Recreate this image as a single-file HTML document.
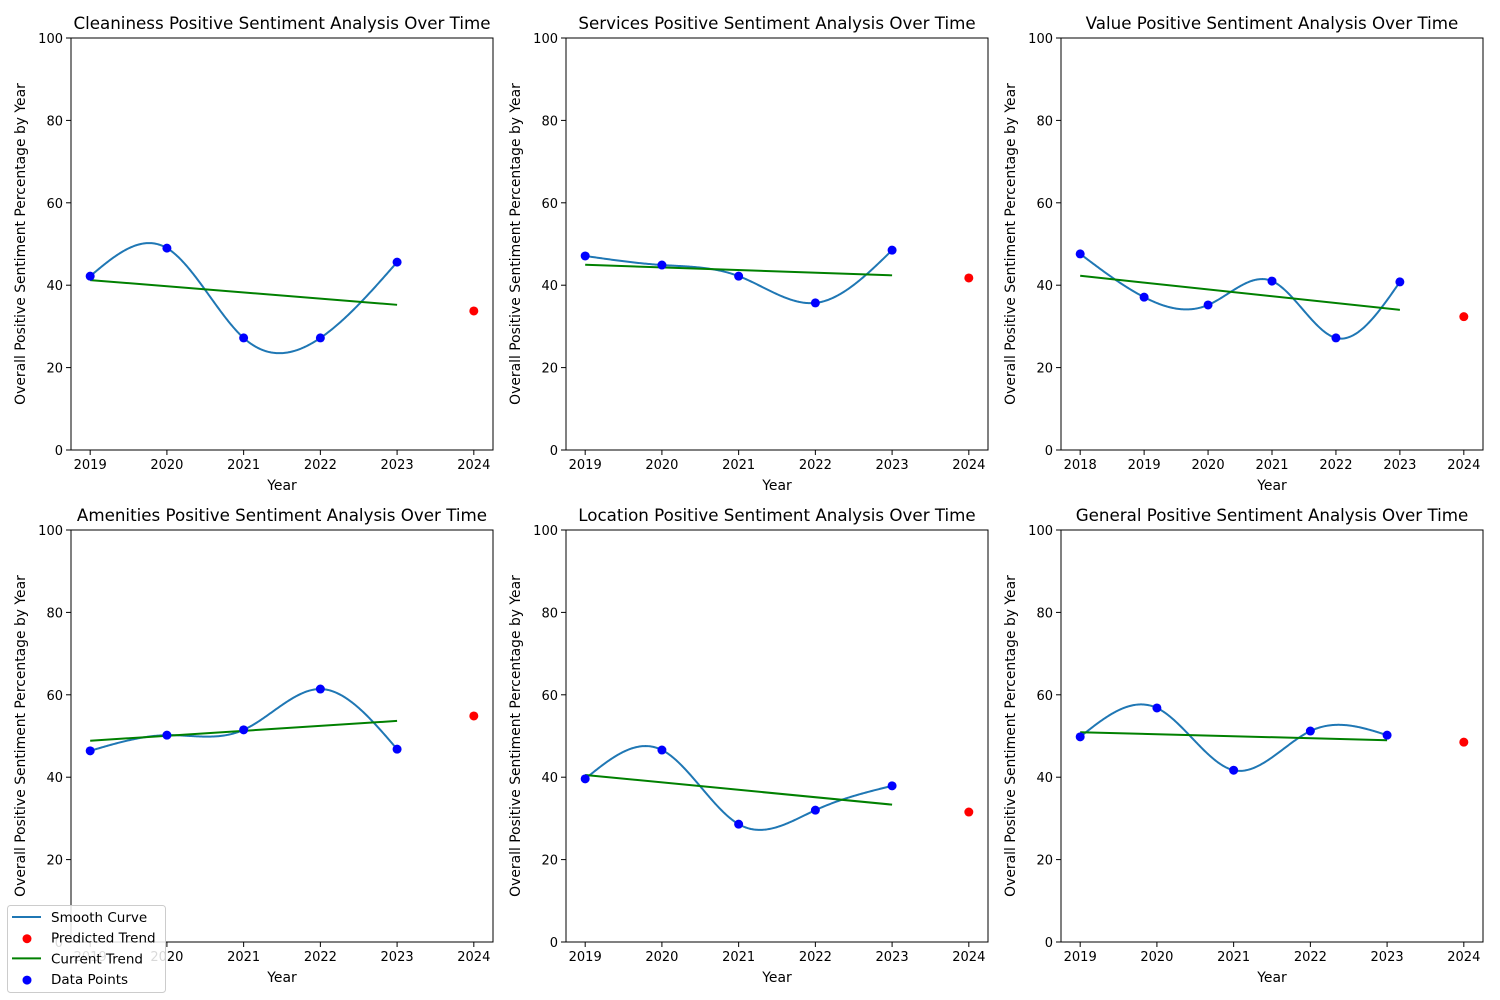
<!DOCTYPE html>
<html><head><meta charset="utf-8"><style>
body{margin:0;background:#fff}
svg{display:block;font-family:"DejaVu Sans","Liberation Sans",sans-serif}
</style></head><body>
<svg id="fig" width="1500" height="1000" viewBox="0 0 1500 1000"></svg>
<script>
const titles=["Cleaniness","Services","Value","Amenities","Location","General"];
const yearsA=[2019,2020,2021,2022,2023];
const yearsValue=[2018,2019,2020,2021,2022,2023];
const cleaniness=[42.2,49.0,27.2,27.2,45.6];
const services=[47.1,44.9,42.2,35.7,48.5];
const valueS=[47.6,37.1,35.2,41.0,27.2,40.8];
const amenities=[46.4,50.2,51.5,61.4,46.8];
const locationS=[39.6,46.6,28.6,32.0,37.9];
const general=[49.8,56.8,41.7,51.2,50.2];
const yTicks=[0,20,40,60,80,100];

const NS="http://www.w3.org/2000/svg";
const fig=document.getElementById('fig');
function mk(tag,attrs,parent,text){const e=document.createElementNS(NS,tag);for(const k in attrs)e.setAttribute(k,attrs[k]);if(text!==undefined)e.textContent=text;(parent||fig).appendChild(e);return e;}

function spline(xs,ys){ // natural cubic spline
  const n=xs.length,h=[];for(let i=0;i<n-1;i++)h.push(xs[i+1]-xs[i]);
  const A=[],b=[];for(let i=0;i<n;i++){A.push(new Array(n).fill(0));b.push(0);}
  A[0][0]=1;
  for(let i=1;i<n-1;i++){A[i][i-1]=h[i-1];A[i][i]=2*(h[i-1]+h[i]);A[i][i+1]=h[i];
    b[i]=6*((ys[i+1]-ys[i])/h[i]-(ys[i]-ys[i-1])/h[i-1]);}
  A[n-1][n-1]=1;
  for(let c=0;c<n;c++){let p=c;for(let r=c+1;r<n;r++)if(Math.abs(A[r][c])>Math.abs(A[p][c]))p=r;
    [A[c],A[p]]=[A[p],A[c]];[b[c],b[p]]=[b[p],b[c]];
    for(let r=0;r<n;r++){if(r===c)continue;const f=A[r][c]/A[c][c];for(let k=c;k<n;k++)A[r][k]-=f*A[c][k];b[r]-=f*b[c];}}
  const M=b.map((v,i)=>v/A[i][i]);
  return x=>{let i=0;while(i<n-2&&x>xs[i+1])i++;const hi=h[i],a=xs[i+1]-x,bb=x-xs[i];
    return M[i]*a*a*a/(6*hi)+M[i+1]*bb*bb*bb/(6*hi)+(ys[i]/hi-M[i]*hi/6)*a+(ys[i+1]/hi-M[i+1]*hi/6)*bb;};
}

function panel(idx,name,years,vals){
  const col=idx%3,row=Math.floor(idx/3);
  const L=71+col*495,R=L+422,T=38+row*492,B=T+412;
  const x0=years[0],x1=2024,pad=(x1-x0)*0.05;
  const sx=v=>L+(v-(x0-pad))/((x1+pad)-(x0-pad))*(R-L);
  const sy=v=>B-v/100*(B-T);
  const g=mk('g',{});
  
  
  const n=years.length,mx=years.reduce((a,c)=>a+c,0)/n,my=vals.reduce((a,c)=>a+c,0)/n;
  let sxy=0,sxx=0;years.forEach((x,i)=>{sxy+=(x-mx)*(vals[i]-my);sxx+=(x-mx)**2;});
  const slope=sxy/sxx,fit=x=>my+slope*(x-mx);
  const f=spline(years,vals);let d='';
  for(let k=0;k<=300;k++){const x=years[0]+(years[n-1]-years[0])*k/300;d+=(k?'L':'M')+sx(x).toFixed(2)+','+sy(f(x)).toFixed(2);}
  const c=mk('path',{d:d,fill:'none',stroke:'#1f77b4','stroke-width':2},g);
  
  
  const t=mk('line',{x1:sx(years[0]),y1:sy(fit(years[0])),x2:sx(years[n-1]),y2:sy(fit(years[n-1])),stroke:'#008000','stroke-width':2},g);
  
  
  const p=mk('circle',{cx:sx(2024),cy:sy(fit(2024)),r:4.5,fill:'#ff0000'},g);
  
  
  years.forEach((x,i)=>{const e=mk('circle',{cx:sx(x),cy:sy(vals[i]),r:4.5,fill:'#0000ff'},g);
    
    });
  mk('rect',{x:L,y:T,width:R-L,height:B-T,fill:'none',stroke:'#000','stroke-width':1},g);
  yTicks.forEach(v=>{mk('line',{x1:L-5,x2:L,y1:sy(v),y2:sy(v),stroke:'#000'},g);
    const tl=mk('text',{x:L-8,y:sy(v)+5,'text-anchor':'end','font-size':13},g,String(v));
    
    });
  for(let y=x0;y<=2024;y++){mk('line',{x1:sx(y),x2:sx(y),y1:B,y2:B+5,stroke:'#000'},g);
    const tl=mk('text',{x:sx(y),y:B+19,'text-anchor':'middle','font-size':13},g,String(y));
    
    }
  const xt=mk('text',{x:(L+R)/2,y:B+40,'text-anchor':'middle','font-size':13.9},g,'Year');
  
  
  const yt=mk('text',{x:0,y:0,'text-anchor':'middle','font-size':13.9,transform:`translate(${L-46},${(T+B)/2}) rotate(-90)`},g,'Overall Positive Sentiment Percentage by Year');
  
  
  const tt=mk('text',{x:(L+R)/2,y:T-9,'text-anchor':'middle','font-size':16.7},g,name+' Positive Sentiment Analysis Over Time');
  
  
}
panel(0,'Cleaniness',yearsA,cleaniness);
panel(1,'Services',yearsA,services);
panel(2,'Value',yearsValue,valueS);
panel(3,'Amenities',yearsA,amenities);
panel(4,'Location',yearsA,locationS);
panel(5,'General',yearsA,general);

const lg=mk('g',{});


mk('rect',{x:7.5,y:905.5,width:158,height:87,rx:3,fill:'#fff','fill-opacity':0.85,stroke:'#ccc'},lg);
const items=[['Smooth Curve','line','#1f77b4'],['Predicted Trend','dot','#ff0000'],['Current Trend','line','#008000'],['Data Points','dot','#0000ff']];
items.forEach((it,i)=>{const y=917+i*20.7;const e=mk('g',{},lg);
  
  
  if(it[1]==='line')mk('line',{x1:12,x2:41,y1:y,y2:y,stroke:it[2],'stroke-width':2},e);
  else mk('circle',{cx:27,cy:y+1,r:4.5,fill:it[2]},e);
  mk('text',{x:51,y:y+5,'font-size':13.5},e,it[0]);});
</script>
</body></html>
